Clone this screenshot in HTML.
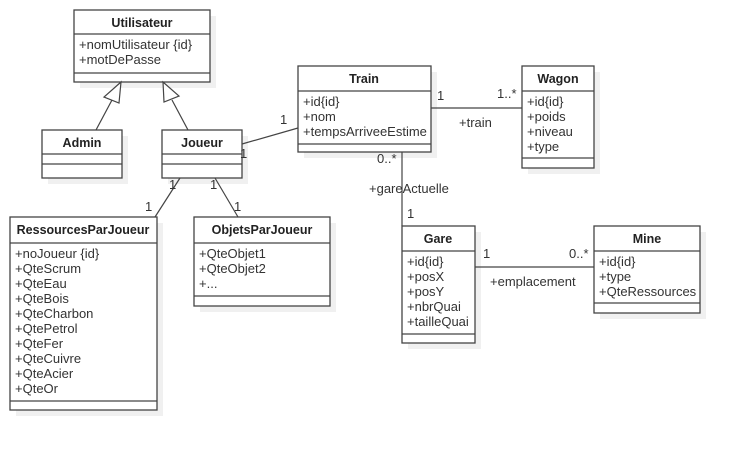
<!DOCTYPE html>
<html><head><meta charset="utf-8"><style>
html,body{margin:0;padding:0;background:#fff;}
svg text{font-family:"Liberation Sans",sans-serif;font-size:13px;fill:#333;}
svg text.t{font-weight:bold;text-anchor:middle;fill:#222;font-size:12.5px;}
</style></head><body>
<svg width="740" height="450" xmlns="http://www.w3.org/2000/svg">
<g fill="#f0f0f0">
<rect x="80" y="16" width="136" height="72"/>
<rect x="48" y="136" width="80" height="48"/>
<rect x="168" y="136" width="80" height="48"/>
<rect x="304" y="72" width="133" height="86"/>
<rect x="528" y="72" width="72" height="102"/>
<rect x="408" y="232" width="73" height="117"/>
<rect x="600" y="232" width="106" height="87"/>
<rect x="16" y="223" width="147" height="193"/>
<rect x="200" y="223" width="136" height="89"/>
</g>
<g fill="#fff" stroke="#444" stroke-width="1.3">
<rect x="74" y="10" width="136" height="72"/>
<line x1="74" y1="34" x2="210" y2="34"/><line x1="74" y1="73" x2="210" y2="73"/>
<rect x="42" y="130" width="80" height="48"/>
<line x1="42" y1="154" x2="122" y2="154"/><line x1="42" y1="164" x2="122" y2="164"/>
<rect x="162" y="130" width="80" height="48"/>
<line x1="162" y1="154" x2="242" y2="154"/><line x1="162" y1="164" x2="242" y2="164"/>
<rect x="298" y="66" width="133" height="86"/>
<line x1="298" y1="91" x2="431" y2="91"/><line x1="298" y1="144" x2="431" y2="144"/>
<rect x="522" y="66" width="72" height="102"/>
<line x1="522" y1="91" x2="594" y2="91"/><line x1="522" y1="158" x2="594" y2="158"/>
<rect x="402" y="226" width="73" height="117"/>
<line x1="402" y1="251" x2="475" y2="251"/><line x1="402" y1="334" x2="475" y2="334"/>
<rect x="594" y="226" width="106" height="87"/>
<line x1="594" y1="251" x2="700" y2="251"/><line x1="594" y1="303" x2="700" y2="303"/>
<rect x="10" y="217" width="147" height="193"/>
<line x1="10" y1="243" x2="157" y2="243"/><line x1="10" y1="401" x2="157" y2="401"/>
<rect x="194" y="217" width="136" height="89"/>
<line x1="194" y1="243" x2="330" y2="243"/><line x1="194" y1="296" x2="330" y2="296"/>
</g>
<g stroke="#444" stroke-width="1.2" fill="none">
<line x1="96" y1="130" x2="112" y2="100"/>
<polygon points="121,82 104,97 119,103" fill="#fff"/>
<line x1="188" y1="130" x2="172" y2="100"/>
<polygon points="163,82 164,102 179,96" fill="#fff"/>
<line x1="242" y1="144" x2="298" y2="128"/>
<line x1="431" y1="108" x2="522" y2="108"/>
<line x1="402" y1="152" x2="402" y2="226"/>
<line x1="475" y1="267" x2="594" y2="267"/>
<line x1="180" y1="178" x2="155" y2="217"/>
<line x1="215" y1="178" x2="238" y2="217"/>
</g>
<text class="t" x="142" y="27">Utilisateur</text>
<text x="79" y="49">+nomUtilisateur {id}</text>
<text x="79" y="64">+motDePasse</text>
<text class="t" x="82" y="147">Admin</text>
<text class="t" x="202" y="147">Joueur</text>
<text class="t" x="364" y="83">Train</text>
<text x="303" y="106">+id{id}</text><text x="303" y="121">+nom</text><text x="303" y="136">+tempsArriveeEstime</text>
<text class="t" x="558" y="83">Wagon</text>
<text x="527" y="106">+id{id}</text><text x="527" y="121">+poids</text><text x="527" y="136">+niveau</text><text x="527" y="151">+type</text>
<text class="t" x="438" y="243">Gare</text>
<text x="407" y="266">+id{id}</text><text x="407" y="281">+posX</text><text x="407" y="296">+posY</text><text x="407" y="311">+nbrQuai</text><text x="407" y="326">+tailleQuai</text>
<text class="t" x="647" y="243">Mine</text>
<text x="599" y="266">+id{id}</text><text x="599" y="281">+type</text><text x="599" y="296">+QteRessources</text>
<text class="t" x="83" y="234">RessourcesParJoueur</text>
<text x="15" y="258">+noJoueur {id}</text><text x="15" y="273">+QteScrum</text><text x="15" y="288">+QteEau</text><text x="15" y="303">+QteBois</text><text x="15" y="318">+QteCharbon</text><text x="15" y="333">+QtePetrol</text><text x="15" y="348">+QteFer</text><text x="15" y="363">+QteCuivre</text><text x="15" y="378">+QteAcier</text><text x="15" y="393">+QteOr</text>
<text class="t" x="262" y="234">ObjetsParJoueur</text>
<text x="199" y="258">+QteObjet1</text><text x="199" y="273">+QteObjet2</text><text x="199" y="288">+...</text>
<text x="280" y="124">1</text>
<text x="240" y="158">1</text>
<text x="437" y="100">1</text>
<text x="497" y="98">1..*</text>
<text x="459" y="127">+train</text>
<text x="377" y="163">0..*</text>
<text x="369" y="193">+gareActuelle</text>
<text x="407" y="218">1</text>
<text x="483" y="258">1</text>
<text x="569" y="258">0..*</text>
<text x="490" y="286">+emplacement</text>
<text x="169" y="189">1</text>
<text x="145" y="211">1</text>
<text x="210" y="189">1</text>
<text x="234" y="211">1</text>
</svg>
</body></html>
